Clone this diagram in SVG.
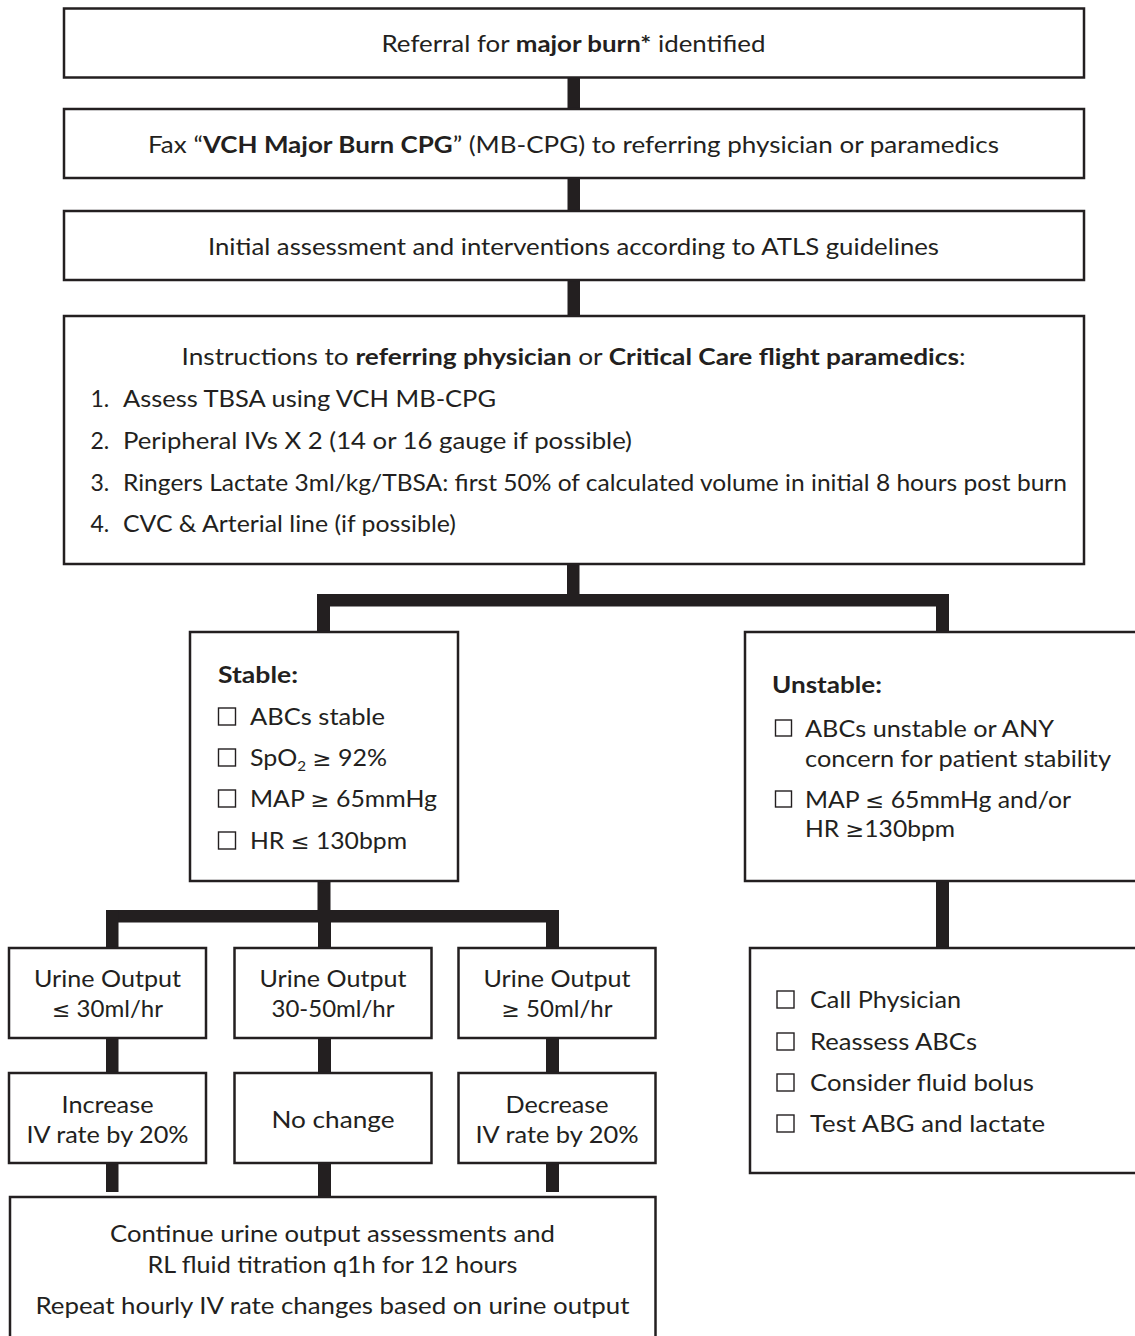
<svg xmlns="http://www.w3.org/2000/svg" width="1135" height="1336" viewBox="0 0 1135 1336">
<style>
.box{fill:#fff;stroke:#231f20;stroke-width:2.5}
.cb{fill:none;stroke:#231f20;stroke-width:1.4}
text{font-family:Lato,"Noto Sans","Liberation Sans",sans-serif;font-size:23px;fill:#231f20}
.c{text-anchor:middle}
.b{font-weight:bold}
.s{font-family:"DejaVu Sans","Noto Sans",sans-serif;font-size:21px}
.conn rect{fill:#231f20}
</style>
<rect width="1135" height="1336" fill="#fff"/>
<g class="conn" id="connectors">
<rect x="567.5" y="77" width="12.5" height="32"/>
<rect x="567.5" y="178" width="12.5" height="33"/>
<rect x="567.5" y="280" width="12.5" height="36"/>
<rect x="567" y="564" width="12.5" height="37"/>
<rect x="317" y="594" width="632" height="12.5"/>
<rect x="317" y="594" width="13" height="38"/>
<rect x="936" y="594" width="13" height="38"/>
<rect x="317.5" y="881" width="13" height="30"/>
<rect x="106" y="910" width="453" height="12.5"/>
<rect x="106" y="910" width="12.5" height="38"/>
<rect x="318" y="910" width="13" height="38"/>
<rect x="546" y="910" width="13" height="38"/>
<rect x="106" y="1038" width="12.5" height="35"/>
<rect x="318" y="1038" width="13" height="35"/>
<rect x="546" y="1038" width="13" height="35"/>
<rect x="106" y="1163" width="12.5" height="29"/>
<rect x="318" y="1163" width="13" height="34"/>
<rect x="546" y="1163" width="13" height="29"/>
<rect x="936" y="881" width="13" height="67"/>
</g>
<g id="referral">
<rect class="box" x="64" y="8.5" width="1020" height="69"/>
<text class="c" x="573.5" y="52" textLength="384" lengthAdjust="spacingAndGlyphs">Referral for <tspan class="b">major burn*</tspan> identified</text>
</g>
<g id="fax">
<rect class="box" x="64" y="109" width="1020" height="69"/>
<text class="c" x="573.5" y="153" textLength="851" lengthAdjust="spacingAndGlyphs">Fax “<tspan class="b">VCH Major Burn CPG</tspan>” (MB-CPG) to referring physician or paramedics</text>
</g>
<g id="initial">
<rect class="box" x="64" y="211" width="1020" height="69"/>
<text class="c" x="573.5" y="255" textLength="731" lengthAdjust="spacingAndGlyphs">Initial assessment and interventions according to ATLS guidelines</text>
</g>
<g id="instructions">
<rect class="box" x="64" y="316" width="1020" height="248"/>
<text class="c" x="573.5" y="365" textLength="784" lengthAdjust="spacingAndGlyphs">Instructions to <tspan class="b">referring physician</tspan> or <tspan class="b">Critical Care flight paramedics</tspan>:</text>
<text x="90.5" y="407">1.</text>
<text x="123" y="407" textLength="373" lengthAdjust="spacingAndGlyphs">Assess TBSA using VCH MB-CPG</text>
<text x="90.5" y="449">2.</text>
<text x="123" y="449" textLength="509" lengthAdjust="spacingAndGlyphs">Peripheral IVs X 2 (14 or 16 gauge if possible)</text>
<text x="90.5" y="491">3.</text>
<text x="123" y="491" textLength="944" lengthAdjust="spacingAndGlyphs">Ringers Lactate 3ml/kg/TBSA: first 50% of calculated volume in initial 8 hours post burn</text>
<text x="90.5" y="532">4.</text>
<text x="123" y="532" textLength="333" lengthAdjust="spacingAndGlyphs">CVC &amp; Arterial line (if possible)</text>
</g>
<g id="stable">
<rect class="box" x="190" y="632" width="268" height="249"/>
<text class="b" x="218" y="683" textLength="80" lengthAdjust="spacingAndGlyphs">Stable:</text>
<rect class="cb" x="218.5" y="708" width="17" height="17"/>
<text x="250" y="725" textLength="135" lengthAdjust="spacingAndGlyphs">ABCs stable</text>
<rect class="cb" x="218.5" y="749" width="17" height="17"/>
<text x="250" y="766" textLength="137" lengthAdjust="spacingAndGlyphs">SpO<tspan font-size="14" dy="5">2</tspan><tspan dy="-5"> </tspan><tspan class="s">≥</tspan> 92%</text>
<rect class="cb" x="218.5" y="790" width="17" height="17"/>
<text x="250" y="807" textLength="187" lengthAdjust="spacingAndGlyphs">MAP <tspan class="s">≥</tspan> 65mmHg</text>
<rect class="cb" x="218.5" y="832" width="17" height="17"/>
<text x="250" y="849" textLength="157" lengthAdjust="spacingAndGlyphs">HR <tspan class="s">≤</tspan> 130bpm</text>
</g>
<g id="unstable">
<rect class="box" x="745" y="632" width="400" height="249"/>
<text class="b" x="772" y="693" textLength="110" lengthAdjust="spacingAndGlyphs">Unstable:</text>
<rect class="cb" x="775.5" y="720" width="16" height="16"/>
<text x="805" y="737" textLength="249" lengthAdjust="spacingAndGlyphs">ABCs unstable or ANY</text>
<text x="805" y="767" textLength="306" lengthAdjust="spacingAndGlyphs">concern for patient stability</text>
<rect class="cb" x="775.5" y="791" width="16" height="16"/>
<text x="805" y="808" textLength="266" lengthAdjust="spacingAndGlyphs">MAP <tspan class="s">≤</tspan> 65mmHg and/or</text>
<text x="805" y="837" textLength="150" lengthAdjust="spacingAndGlyphs">HR <tspan class="s">≥</tspan>130bpm</text>
</g>
<g id="unstable-actions">
<rect class="box" x="750" y="948" width="395" height="225"/>
<rect class="cb" x="777" y="991" width="17" height="17"/>
<text x="810" y="1008" textLength="151" lengthAdjust="spacingAndGlyphs">Call Physician</text>
<rect class="cb" x="777" y="1033" width="17" height="17"/>
<text x="810" y="1050" textLength="167" lengthAdjust="spacingAndGlyphs">Reassess ABCs</text>
<rect class="cb" x="777" y="1074" width="17" height="17"/>
<text x="810" y="1091" textLength="224" lengthAdjust="spacingAndGlyphs">Consider fluid bolus</text>
<rect class="cb" x="777" y="1115" width="17" height="17"/>
<text x="810" y="1132" textLength="235" lengthAdjust="spacingAndGlyphs">Test ABG and lactate</text>
</g>
<g id="uo-low">
<rect class="box" x="9" y="948" width="197" height="90"/>
<text class="c" x="107.5" y="987" textLength="147" lengthAdjust="spacingAndGlyphs">Urine Output</text>
<text class="c" x="107.5" y="1017" textLength="111" lengthAdjust="spacingAndGlyphs"><tspan class="s">≤</tspan> 30ml/hr</text>
</g>
<g id="uo-mid">
<rect class="box" x="234.5" y="948" width="197" height="90"/>
<text class="c" x="333" y="987" textLength="147" lengthAdjust="spacingAndGlyphs">Urine Output</text>
<text class="c" x="333" y="1017" textLength="123" lengthAdjust="spacingAndGlyphs">30-50ml/hr</text>
</g>
<g id="uo-high">
<rect class="box" x="458.5" y="948" width="197" height="90"/>
<text class="c" x="557" y="987" textLength="147" lengthAdjust="spacingAndGlyphs">Urine Output</text>
<text class="c" x="557" y="1017" textLength="111" lengthAdjust="spacingAndGlyphs"><tspan class="s">≥</tspan> 50ml/hr</text>
</g>
<g id="increase">
<rect class="box" x="9" y="1073" width="197" height="90"/>
<text class="c" x="107.5" y="1113" textLength="92" lengthAdjust="spacingAndGlyphs">Increase</text>
<text class="c" x="107.5" y="1143" textLength="162" lengthAdjust="spacingAndGlyphs">IV rate by 20%</text>
</g>
<g id="nochange">
<rect class="box" x="234.5" y="1073" width="197" height="90"/>
<text class="c" x="333" y="1128" textLength="123" lengthAdjust="spacingAndGlyphs">No change</text>
</g>
<g id="decrease">
<rect class="box" x="458.5" y="1073" width="197" height="90"/>
<text class="c" x="557" y="1113" textLength="103" lengthAdjust="spacingAndGlyphs">Decrease</text>
<text class="c" x="557" y="1143" textLength="163" lengthAdjust="spacingAndGlyphs">IV rate by 20%</text>
</g>
<g id="continue">
<rect class="box" x="10" y="1197" width="645.5" height="150"/>
<text class="c" x="332.5" y="1242" textLength="445" lengthAdjust="spacingAndGlyphs">Continue urine output assessments and</text>
<text class="c" x="332.5" y="1273" textLength="370" lengthAdjust="spacingAndGlyphs">RL fluid titration q1h for 12 hours</text>
<text class="c" x="332.5" y="1314" textLength="594" lengthAdjust="spacingAndGlyphs">Repeat hourly IV rate changes based on urine output</text>
</g>
</svg>
